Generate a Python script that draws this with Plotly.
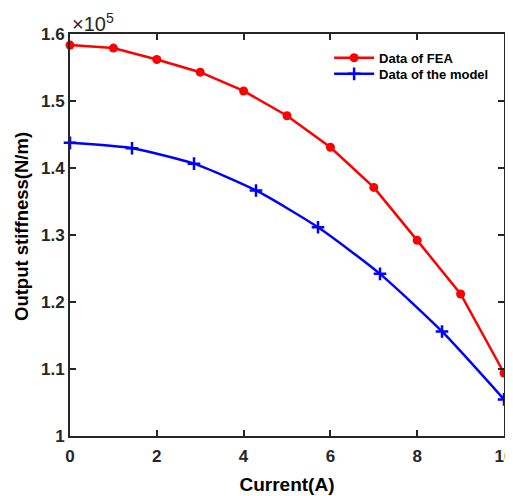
import plotly.graph_objects as go

fea_x = [0, 1, 2, 3, 4, 5, 6, 7, 8, 9, 10]
fea_y = [1.5835, 1.579, 1.562, 1.543, 1.515, 1.478, 1.431, 1.371, 1.292, 1.212, 1.094]

model_x = [0, 1.4286, 2.8571, 4.2857, 5.7143, 7.1429, 8.5714, 10]
model_y = [1.4375, 1.4295, 1.4065, 1.3665, 1.3115, 1.2420, 1.1560, 1.0546]

x_ticks = [0, 2, 4, 6, 8, 10]
y_ticks = [1.0, 1.1, 1.2, 1.3, 1.4, 1.5, 1.6]
y_tick_text = ["1", "1.1", "1.2", "1.3", "1.4", "1.5", "1.6"]

fig = go.Figure()
fig.add_trace(go.Scatter(
    x=fea_x, y=fea_y, mode="lines+markers", name="Data of FEA",
    line=dict(color="#ff0000", width=2.5),
    marker=dict(symbol="circle", size=9, color="#ff0000"),
    cliponaxis=False, legend="legend",
))
fig.add_trace(go.Scatter(
    x=model_x, y=model_y, mode="lines+markers", name="Data of the model",
    line=dict(color="#0000ff", width=2.5, shape="spline", smoothing=0.6),
    marker=dict(symbol="cross-thin", size=9, line=dict(color="#0000ff", width=2.5)),
    cliponaxis=False, legend="legend2",
))

axis_common = dict(
    showline=True, linecolor="#262626", linewidth=2, mirror="ticks",
    ticks="inside", ticklen=6, tickwidth=2, tickcolor="#262626",
    showgrid=False, zeroline=False, automargin=False,
    ticklabeloverflow="allow",
    tickfont=dict(family="Liberation Sans, Arial", size=17, color="#262626", weight="bold"),
)

legend_common = dict(
    xanchor="left", yanchor="top",
    bgcolor="rgba(0,0,0,0)", borderwidth=0,
    font=dict(size=13, color="#000000", weight="bold"),
    itemwidth=40,
)

fig.update_layout(
    width=505, height=488,
    margin=dict(l=62, r=9, t=26, b=60),
    paper_bgcolor="white", plot_bgcolor="white",
    font=dict(family="Liberation Sans, Arial", color="#262626"),
    xaxis=dict(range=[0, 10], tickvals=x_ticks, ticklabelstandoff=4,
               title=dict(text="<b>Current(A)</b>", font=dict(size=19, color="#000000"), standoff=12),
               **axis_common),
    yaxis=dict(range=[1.0, 1.6], tickvals=y_ticks, ticktext=y_tick_text,
               **axis_common),
    legend=dict(x=0.597, y=0.978, **legend_common),
    legend2=dict(x=0.597, y=0.938, **legend_common),
    showlegend=True,
    annotations=[
        dict(x=0, y=1.0, xref="paper", yref="paper", xanchor="left", yanchor="bottom",
             text="×10<sup>5</sup>", showarrow=False,
             font=dict(size=20, color="#262626"), yshift=-3),
        dict(x=-0.1106, y=0.5224, xref="paper", yref="paper",
             xanchor="center", yanchor="middle", textangle=-90,
             text="<b>Output stiffness(N/m)</b>", showarrow=False,
             font=dict(size=18.5, color="#000000")),
    ],
)

fig.write_html("out.html")
